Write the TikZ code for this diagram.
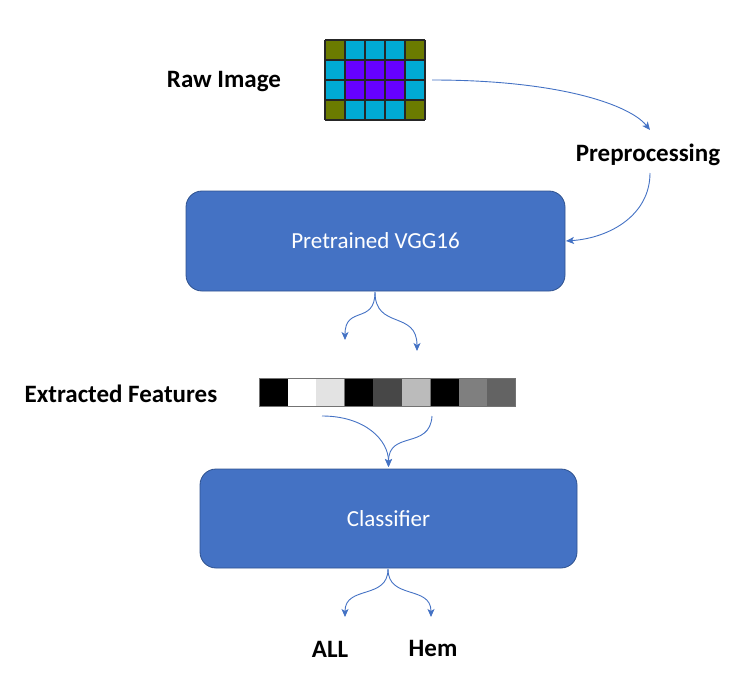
\documentclass[tikz,border=0pt]{standalone}
\usepackage{fontspec}
\setmainfont{Carlito}
\usetikzlibrary{arrows.meta}
\definecolor{boxblue}{HTML}{4472C4}
\definecolor{boxedge}{HTML}{2F528F}
\definecolor{olivec}{HTML}{6B7B00}
\definecolor{cyanc}{HTML}{00AAD4}
\definecolor{purplec}{HTML}{6600FF}
\tikzset{
  blockbox/.style={draw=boxedge, line width=0.8pt, fill=boxblue, rounded corners=16pt, inner sep=0pt, text=white, font=\fontsize{23}{27}\selectfont},
  lbl/.style={inner sep=0pt, font=\bfseries\fontsize{25}{30}\selectfont},
  conn/.style={draw=boxblue, line width=0.9pt, -{Stealth[length=8pt,width=7pt,inset=2pt]}},
  cellline/.style={draw=black!85, line width=1.2pt}
}
\begin{document}
\begin{tikzpicture}[x=1pt,y=-1pt]
\useasboundingbox (0,0) rectangle (740,685);

% raw image grid
\node[minimum width=100pt, minimum height=80pt, inner sep=0pt] (img) at (375,80) {};
\foreach \r in {0,...,3}{
  \foreach \c in {0,...,4}{
    \pgfmathsetmacro{\corner}{((\r==0 || \r==3) && (\c==0 || \c==4)) ? 1 : 0}
    \pgfmathsetmacro{\inner}{((\r==1 || \r==2) && (\c>=1 && \c<=3)) ? 1 : 0}
    \ifdim\corner pt>0.5pt
      \def\cc{olivec}
    \else
      \ifdim\inner pt>0.5pt \def\cc{purplec}\else\def\cc{cyanc}\fi
    \fi
    \fill[\cc] (325+20*\c,40+20*\r) rectangle ++(20,20);
  }
}
\foreach \c in {0,...,5}{ \draw[cellline] (325+20*\c,40) -- (325+20*\c,120); }
\foreach \r in {0,...,4}{ \draw[cellline] (325,40+20*\r) -- (425,40+20*\r); }

\node[lbl] (raw) at (224,82) {Raw Image};
\node[lbl] (pre) at (648,155) {Preprocessing};

\node[blockbox, minimum width=379pt, minimum height=100pt] (vgg) at (375.5,241) {Pretrained VGG16};

% feature bar
\node[minimum width=257pt, minimum height=28pt, inner sep=0pt] (feat) at (387.5,392) {};
\def\fw{28.555}
\foreach \i/\g in {0/000000,1/FFFFFF,2/E3E3E3,3/000000,4/474747,5/BBBBBB,6/000000,7/7F7F7F,8/636363}{
  \definecolor{tmpc}{HTML}{\g}
  \fill[tmpc] (259+\fw*\i,378) rectangle ++(\fw,28);
}
\foreach \i in {0,3,6}{
  \draw[black!55, line width=1pt] (259+\fw*\i,378) rectangle ++(3*\fw,28);
}
\node[lbl] (ext) at (121,394) {Extracted Features};

\node[blockbox, minimum width=377pt, minimum height=99pt] (cls) at (388.5,518.5) {Classifier};

\node[lbl] (all) at (330,649) {ALL};
\node[lbl] (hem) at (433,648) {Hem};

% connector end points
\coordinate (a1s) at (432,80);
\coordinate (a1e) at (650,130);
\coordinate (a2s) at (650,173);
\coordinate (a2e) at (566,241);
\coordinate (vb) at (375,292);
\coordinate (vl) at (345,340);
\coordinate (vr) at (417,351);
\coordinate (fl) at (322,416);
\coordinate (fr) at (432,416);
\coordinate (ct) at (388.5,467);
\coordinate (cb) at (388,569);
\coordinate (cl) at (345,617);
\coordinate (cr) at (431,617);

\draw[conn] (a1s) .. controls (560,80) and (630,105) .. (a1e);
\draw[conn] (a2s) .. controls (650,215) and (610,238) .. (a2e);
\draw[conn] (vb) .. controls (375,325) and (345,305) .. (vl);
\draw[conn] (vb) .. controls (375,330) and (417,310) .. (vr);
\draw[conn] (fl) .. controls (365,416) and (388.5,440) .. (ct);
\draw[conn] (fr) .. controls (430,450) and (388.5,430) .. (ct);
\draw[conn] (cb) .. controls (388,600) and (345,585) .. (cl);
\draw[conn] (cb) .. controls (388,600) and (431,585) .. (cr);
\end{tikzpicture}
\end{document}
